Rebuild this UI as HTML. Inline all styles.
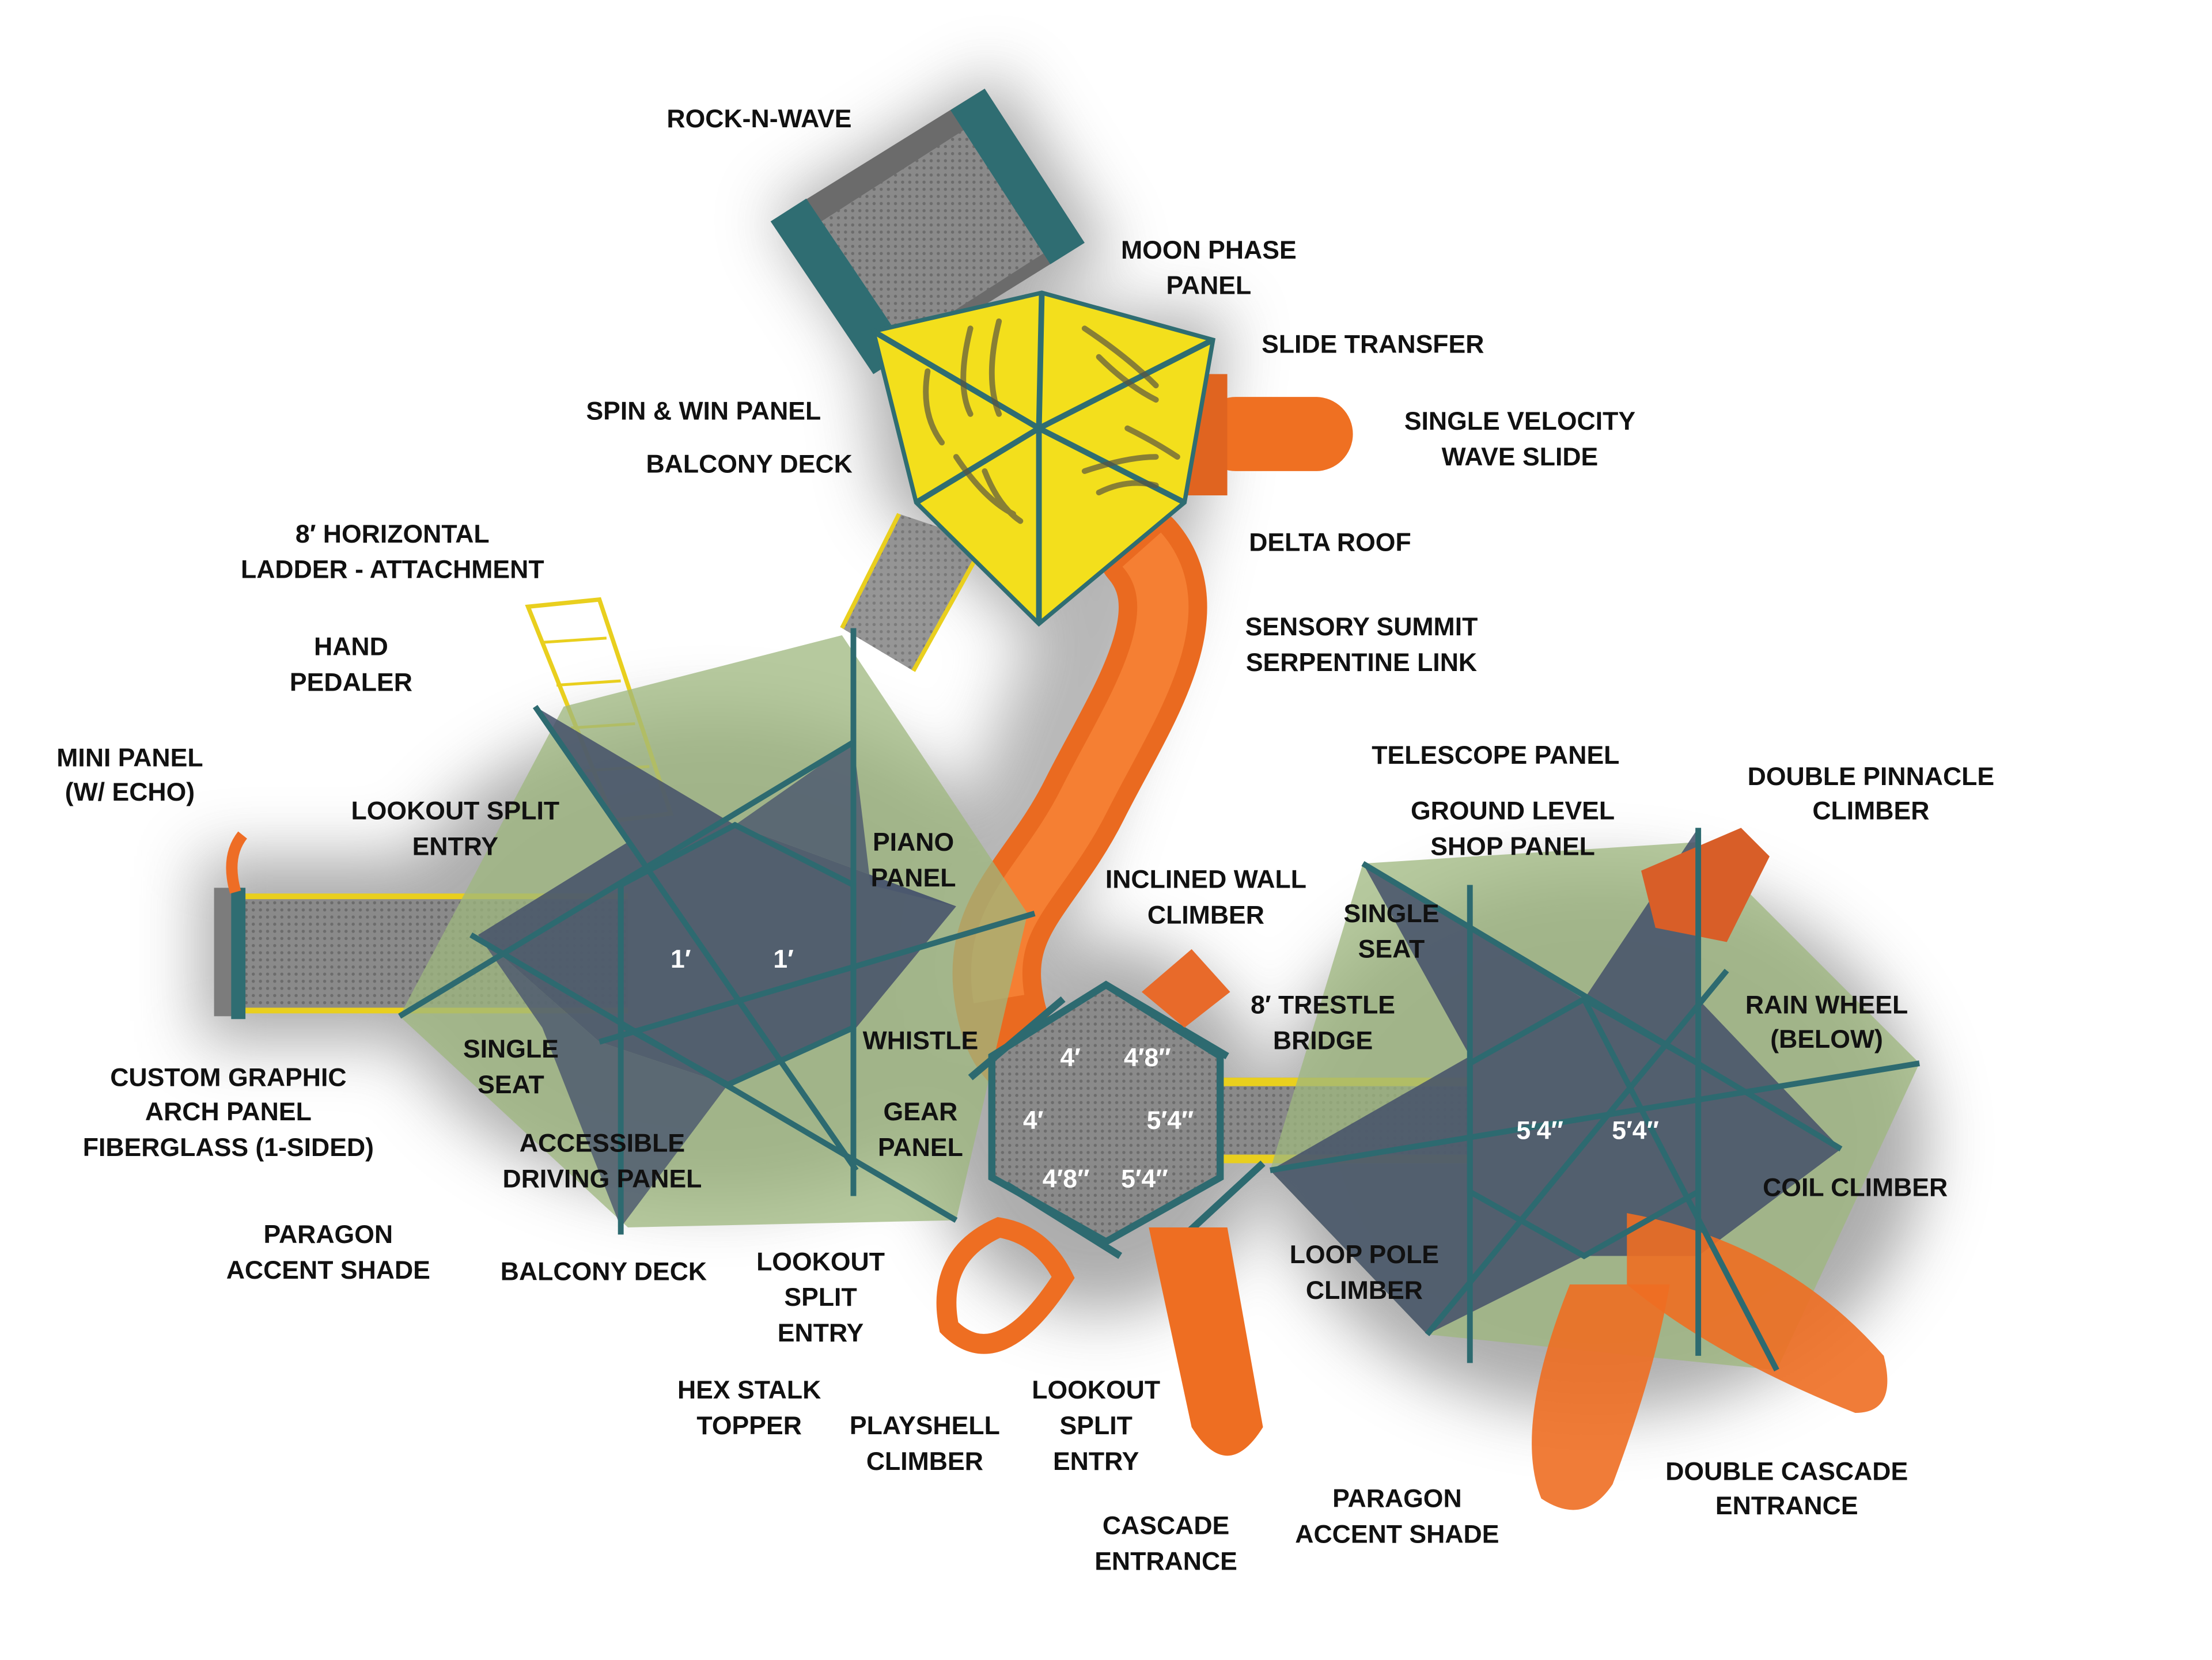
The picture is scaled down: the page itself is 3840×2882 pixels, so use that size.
<!DOCTYPE html>
<html><head><meta charset="utf-8"><style>
html,body{margin:0;padding:0;background:#fff;}
svg{display:block;}
text{font-family:"Liberation Sans Narrow","Liberation Sans",sans-serif;font-weight:bold;font-size:18px;fill:#111;text-anchor:middle;}
.w{fill:#fff;font-size:18px;}
</style></head><body>
<svg width="3840" height="2882" viewBox="0 0 1550 1163" xmlns="http://www.w3.org/2000/svg">
<defs>
<filter id="b" x="-50%" y="-50%" width="200%" height="200%"><feGaussianBlur stdDeviation="22"/></filter>
<pattern id="dots" width="5" height="5" patternUnits="userSpaceOnUse"><rect width="5" height="5" fill="#8a8a8a"/><circle cx="2.5" cy="2.5" r="1.1" fill="#6c6c6c"/></pattern>
</defs>
<rect width="1550" height="1163" fill="#fff"/>
<g filter="url(#b)" fill="#8a8a8a" opacity="0.7">
<polygon points="540,150 700,50 780,180 620,270"/>
<polygon points="600,220 860,220 840,370 730,450 620,350"/>
<ellipse cx="500" cy="670" rx="230" ry="170"/>
<ellipse cx="770" cy="790" rx="120" ry="130"/>
<ellipse cx="1120" cy="800" rx="230" ry="190"/>
<rect x="140" y="600" width="300" height="130"/>
<path d="M790 380 C760 500 700 580 700 720" stroke="#999" stroke-width="90" fill="none"/>
</g>
<polygon points="540,155 690,62 760,170 612,262" fill="#6b6b6b"/>
<polygon points="560,165 680,88 735,175 618,250" fill="url(#dots)"/>
<polygon points="540,155 565,139 637,246 612,262" fill="#2f6d72"/>
<polygon points="666,77 690,62 760,170 736,185" fill="#2f6d72"/>
<polygon points="590,440 630,360 690,380 640,470" fill="url(#dots)" opacity="0.9"/>
<line x1="590" y1="440" x2="630" y2="360" stroke="#e9cf1e" stroke-width="3"/>
<line x1="640" y1="470" x2="690" y2="380" stroke="#e9cf1e" stroke-width="3"/>
<polygon points="370,425 420,420 470,570 430,575" fill="none" stroke="#e9cf1e" stroke-width="3"/>
<g stroke="#e9cf1e" stroke-width="2"><line x1="380" y1="450" x2="425" y2="447"/><line x1="390" y1="480" x2="435" y2="477"/><line x1="400" y1="510" x2="445" y2="507"/><line x1="410" y1="540" x2="455" y2="537"/></g>
<rect x="150" y="622" width="20" height="90" fill="#7c7c7c"/>
<rect x="165" y="628" width="275" height="80" fill="url(#dots)"/>
<line x1="165" y1="628" x2="440" y2="628" stroke="#e9cf1e" stroke-width="4"/>
<line x1="165" y1="708" x2="440" y2="708" stroke="#e9cf1e" stroke-width="4"/>
<rect x="162" y="622" width="10" height="92" fill="#2f6d72"/>
<path d="M170 585 q-12 15 -5 40" stroke="#ee6d25" stroke-width="8" fill="none"/>
<rect x="855" y="755" width="175" height="60" fill="url(#dots)"/>
<line x1="855" y1="758" x2="1030" y2="758" stroke="#e9cf1e" stroke-width="6"/>
<line x1="855" y1="812" x2="1030" y2="812" stroke="#e9cf1e" stroke-width="6"/>
<path d="M800 385 C840 430 790 500 760 560 C730 620 690 640 700 700 C710 760 740 730 760 800" stroke="#ea6a20" stroke-width="62" fill="none" stroke-linecap="round"/>
<path d="M800 385 C840 430 790 500 760 560 C730 620 690 640 700 700" stroke="#f57f33" stroke-width="36" fill="none"/>
<rect x="840" y="278" width="108" height="52" rx="26" fill="#ef7022"/>
<rect x="830" y="262" width="30" height="85" fill="#e06420"/>
<polygon points="612,232 730,205 850,238 830,352 728,437 642,352" fill="#f3df1c" stroke="#2f6d72" stroke-width="3"/>
<g stroke="#2f6d72" stroke-width="4"><line x1="728" y1="300" x2="730" y2="205"/><line x1="728" y1="300" x2="850" y2="238"/><line x1="728" y1="300" x2="830" y2="352"/><line x1="728" y1="300" x2="728" y2="437"/><line x1="728" y1="300" x2="642" y2="352"/><line x1="728" y1="300" x2="612" y2="232"/></g>
<g stroke="#5a5540" stroke-width="4" stroke-linecap="round" opacity="0.7" fill="none">
<path d="M680 230 q-10 40 0 60 M700 225 q-10 40 0 65 M760 230 q30 20 50 40 M770 250 q20 20 40 30 M670 320 q20 30 40 40 M690 330 q10 25 25 35 M760 330 q30 -10 50 -10 M770 345 q20 -10 40 -5 M650 260 q-5 30 10 50 M790 300 q20 10 35 20"/>
</g>
<polygon points="280,712 395,495 590,445 720,640 670,855 440,860" fill="#9db77e" opacity="0.75"/>
<polygon points="375,495 515,578 670,635 600,720 510,760 420,730 335,655 440,590" fill="#44506a" opacity="0.85"/>
<polygon points="335,655 380,720 435,860 510,760 420,730" fill="#4a566e" opacity="0.8"/>
<polygon points="515,578 598,520 610,620 670,635" fill="#4a566e" opacity="0.8"/>
<g stroke="#2d6a70" stroke-width="4">
<line x1="375" y1="495" x2="600" y2="820"/><line x1="280" y1="712" x2="598" y2="520"/><line x1="598" y1="440" x2="598" y2="838"/><line x1="435" y1="620" x2="435" y2="865"/><line x1="330" y1="655" x2="670" y2="855"/><line x1="420" y1="730" x2="725" y2="640"/>
<polygon points="515,578 598,620 598,720 510,760 435,718 435,620" fill="none"/>
</g>
<text class="w" x="477" y="678">1′</text><text class="w" x="549" y="678">1′</text>
<polygon points="775,690 855,740 855,825 775,870 695,825 695,740" fill="url(#dots)"/>
<g stroke="#2d6a70" stroke-width="5" fill="none">
<polygon points="775,690 855,740 855,825 775,870 695,825 695,740"/>
<line x1="680" y1="755" x2="745" y2="700"/><line x1="775" y1="690" x2="860" y2="740"/><line x1="820" y1="875" x2="885" y2="815"/><line x1="705" y1="830" x2="785" y2="880"/></g>
<polygon points="800,695 835,665 862,695 830,720" fill="#e86a2a"/>
<text class="w" x="750" y="747">4′</text><text class="w" x="804" y="747">4′8″</text>
<text class="w" x="724" y="791">4′</text><text class="w" x="820" y="791">5′4″</text>
<text class="w" x="747" y="832">4′8″</text><text class="w" x="802" y="832">5′4″</text>
<path d="M805 860 L835 1000 Q860 1040 885 1000 L860 860 Z" fill="#ee6e22"/>
<path d="M700 860 Q655 880 665 930 Q700 965 745 895 Q730 865 700 860 Z" fill="none" stroke="#ee6e22" stroke-width="14"/>
<polygon points="890,820 955,605 1190,590 1345,745 1245,960 1000,935" fill="#9db77e" opacity="0.75"/>
<polygon points="955,605 1110,700 1190,580 1190,700 1290,805 1190,880 1110,880 1000,935 890,820 1030,740" fill="#44506a" opacity="0.85"/>
<path d="M1140 850 Q1250 870 1320 950 Q1330 990 1300 990 Q1200 950 1140 900 Z" fill="#ee6e22" opacity="0.9"/>
<path d="M1100 900 Q1060 1000 1080 1050 Q1110 1070 1130 1040 Q1160 960 1170 900 Z" fill="#ee6e22" opacity="0.9"/>
<polygon points="1150,610 1220,580 1240,600 1210,660 1160,650" fill="#d85e28"/>
<g stroke="#2d6a70" stroke-width="4" fill="none">
<polygon points="1110,700 1190,745 1190,835 1110,880 1030,835 1030,745"/>
<line x1="955" y1="605" x2="1290" y2="805"/><line x1="890" y1="820" x2="1345" y2="745"/><line x1="1190" y1="580" x2="1190" y2="950"/><line x1="1030" y1="620" x2="1030" y2="955"/><line x1="1000" y1="935" x2="1210" y2="680"/><line x1="1110" y1="700" x2="1245" y2="960"/></g>
<text class="w" x="1079" y="798">5′4″</text><text class="w" x="1146" y="798">5′4″</text>
<text x="532" y="89">ROCK-N-WAVE</text>
<text x="847" y="181">MOON PHASE</text><text x="847" y="206">PANEL</text>
<text x="962" y="247">SLIDE TRANSFER</text>
<text x="1065" y="301">SINGLE VELOCITY</text><text x="1065" y="326">WAVE SLIDE</text>
<text x="493" y="294">SPIN &amp; WIN PANEL</text>
<text x="525" y="331">BALCONY DECK</text>
<text x="932" y="386">DELTA ROOF</text>
<text x="275" y="380">8′ HORIZONTAL</text><text x="275" y="405">LADDER - ATTACHMENT</text>
<text x="954" y="445">SENSORY SUMMIT</text><text x="954" y="470">SERPENTINE LINK</text>
<text x="246" y="459">HAND</text><text x="246" y="484">PEDALER</text>
<text x="91" y="537">MINI PANEL</text><text x="91" y="561">(W/ ECHO)</text>
<text x="1048" y="535">TELESCOPE PANEL</text>
<text x="1311" y="550">DOUBLE PINNACLE</text><text x="1311" y="574">CLIMBER</text>
<text x="319" y="574">LOOKOUT SPLIT</text><text x="319" y="599">ENTRY</text>
<text x="1060" y="574">GROUND LEVEL</text><text x="1060" y="599">SHOP PANEL</text>
<text x="640" y="596">PIANO</text><text x="640" y="621">PANEL</text>
<text x="845" y="622">INCLINED WALL</text><text x="845" y="647">CLIMBER</text>
<text x="975" y="646">SINGLE</text><text x="975" y="671">SEAT</text>
<text x="1280" y="710">RAIN WHEEL</text><text x="1280" y="734">(BELOW)</text>
<text x="927" y="710">8′ TRESTLE</text><text x="927" y="735">BRIDGE</text>
<text x="645" y="735">WHISTLE</text>
<text x="358" y="741">SINGLE</text><text x="358" y="766">SEAT</text>
<text x="160" y="761">CUSTOM GRAPHIC</text><text x="160" y="785">ARCH PANEL</text><text x="160" y="810">FIBERGLASS (1-SIDED)</text>
<text x="645" y="785">GEAR</text><text x="645" y="810">PANEL</text>
<text x="422" y="807">ACCESSIBLE</text><text x="422" y="832">DRIVING PANEL</text>
<text x="1300" y="838">COIL CLIMBER</text>
<text x="230" y="871">PARAGON</text><text x="230" y="896">ACCENT SHADE</text>
<text x="423" y="897">BALCONY DECK</text>
<text x="575" y="890">LOOKOUT</text><text x="575" y="915">SPLIT</text><text x="575" y="940">ENTRY</text>
<text x="956" y="885">LOOP POLE</text><text x="956" y="910">CLIMBER</text>
<text x="525" y="980">HEX STALK</text><text x="525" y="1005">TOPPER</text>
<text x="768" y="980">LOOKOUT</text><text x="768" y="1005">SPLIT</text><text x="768" y="1030">ENTRY</text>
<text x="648" y="1005">PLAYSHELL</text><text x="648" y="1030">CLIMBER</text>
<text x="1252" y="1037">DOUBLE CASCADE</text><text x="1252" y="1061">ENTRANCE</text>
<text x="979" y="1056">PARAGON</text><text x="979" y="1081">ACCENT SHADE</text>
<text x="817" y="1075">CASCADE</text><text x="817" y="1100">ENTRANCE</text>
</svg>
</body></html>
